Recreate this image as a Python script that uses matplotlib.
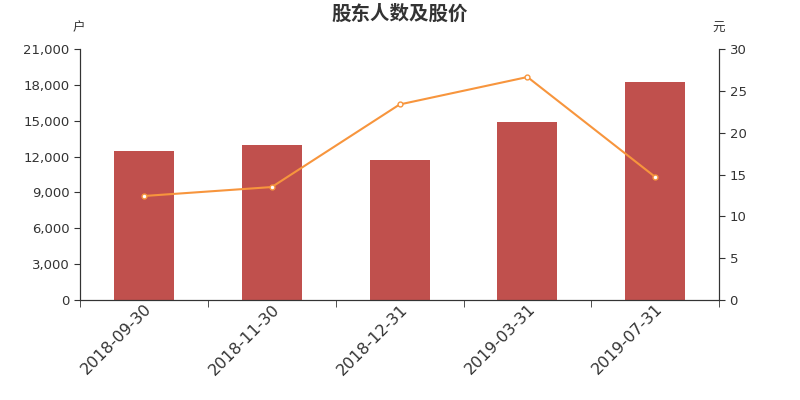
import numpy as np
import matplotlib.pyplot as plt
from matplotlib.ticker import FuncFormatter

plt.rcParams['font.family'] = ['DejaVu Sans', 'Noto Sans CJK SC']

dates = ['2018-09-30', '2018-11-30', '2018-12-31', '2019-03-31', '2019-07-31']
holders = [12500, 12930, 11700, 14900, 18250]
prices = [12.43, 13.5, 23.37, 26.65, 14.7]

bar_color = '#c0504d'
line_color = '#f7953d'
text_color = '#333333'
cjk = ['Noto Sans CJK SC', 'DejaVu Sans']

fig = plt.figure(figsize=(8, 4), dpi=100)
ax = fig.add_axes([0.1, 0.25, 0.799, 0.6275])
ax2 = ax.twinx()

x = np.arange(len(dates))
ax.bar(x, holders, width=0.47, color=bar_color, zorder=2)
ax2.plot(x, prices, color=line_color, linewidth=1.5, marker='o', markersize=3.5,
         markerfacecolor='white', markeredgecolor=line_color, markeredgewidth=1, zorder=3)

ax.set_xlim(-0.5, len(dates) - 0.5)
ax.set_ylim(0, 21000)
ax.set_yticks(np.arange(0, 21001, 3000))
ax.yaxis.set_major_formatter(FuncFormatter(lambda v, p: f'{int(v):,}'))
ax2.set_ylim(0, 30)
ax2.set_yticks(np.arange(0, 31, 5))

ax.set_xticks(x)
ax.set_xticklabels(dates, rotation=45, ha='right', va='top', rotation_mode='anchor',
                   fontsize=11.5, color=text_color)
ax.set_xticks(np.arange(-0.5, len(dates), 1), minor=True)
ax.tick_params(axis='x', which='major', length=0, pad=1)
ax.tick_params(axis='x', which='minor', length=5, color=text_color)
ax.tick_params(axis='y', length=4, color=text_color, labelcolor=text_color, labelsize=9.5)
ax2.tick_params(axis='y', length=4, color=text_color, labelcolor=text_color, labelsize=9.5)

for a in (ax, ax2):
    a.spines['top'].set_visible(False)
    for s in ('left', 'right', 'bottom'):
        a.spines[s].set_color(text_color)
ax.set_zorder(ax2.get_zorder() - 1)
ax2.patch.set_visible(False)

fig.text(0.5, 0.965, '股东人数及股价', ha='center', va='center', fontsize=14,
         fontweight='bold', color=text_color, family=cjk)
fig.text(0.098, 0.93, '户', ha='center', va='center', fontsize=9, color=text_color, family=cjk)
fig.text(0.898, 0.93, '元', ha='center', va='center', fontsize=9, color=text_color, family=cjk)

fig.savefig('out.png', dpi=100)
